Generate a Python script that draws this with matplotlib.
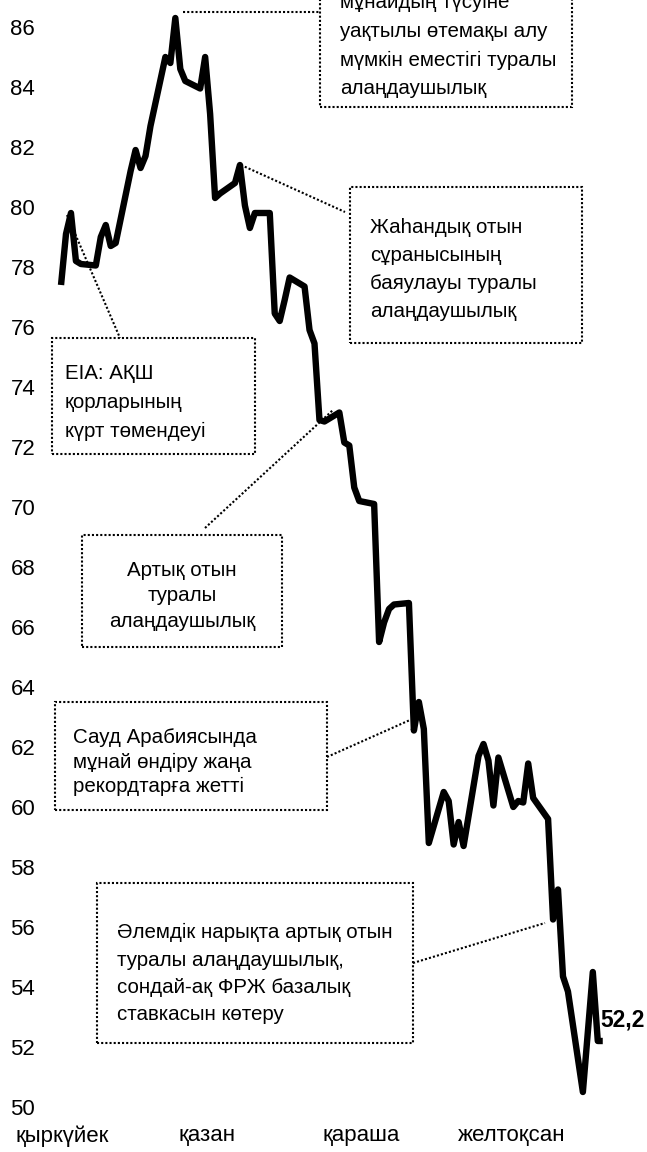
import matplotlib
matplotlib.use("Agg")
import matplotlib.pyplot as plt
import pandas as pd
from matplotlib.patches import Rectangle
from matplotlib.lines import Line2D

# ---------------- data ----------------
dates = [
    "2018-09-10", "2018-09-11", "2018-09-12", "2018-09-13", "2018-09-14",
    "2018-09-17", "2018-09-18", "2018-09-19", "2018-09-20", "2018-09-21",
    "2018-09-24", "2018-09-25", "2018-09-26", "2018-09-27", "2018-09-28",
    "2018-10-01", "2018-10-02", "2018-10-03", "2018-10-04", "2018-10-05",
    "2018-10-08", "2018-10-09", "2018-10-10", "2018-10-11", "2018-10-12",
    "2018-10-15", "2018-10-16", "2018-10-17", "2018-10-18", "2018-10-19",
    "2018-10-22", "2018-10-23", "2018-10-24", "2018-10-25", "2018-10-26",
    "2018-10-29", "2018-10-30", "2018-10-31", "2018-11-01", "2018-11-02",
    "2018-11-05", "2018-11-06", "2018-11-07", "2018-11-08", "2018-11-09",
    "2018-11-12", "2018-11-13", "2018-11-14", "2018-11-15", "2018-11-16",
    "2018-11-19", "2018-11-20", "2018-11-21", "2018-11-22", "2018-11-23",
    "2018-11-26", "2018-11-27", "2018-11-28", "2018-11-29", "2018-11-30",
    "2018-12-03", "2018-12-04", "2018-12-05", "2018-12-06", "2018-12-07",
    "2018-12-10", "2018-12-11", "2018-12-12", "2018-12-13", "2018-12-14",
    "2018-12-17", "2018-12-18", "2018-12-19", "2018-12-20", "2018-12-21",
    "2018-12-24", "2018-12-26", "2018-12-27", "2018-12-28",
]
prices = [
    77.4, 79.1, 79.8, 78.2, 78.1,
    78.05, 79.0, 79.4, 78.7, 78.8,
    81.2, 81.9, 81.3, 81.7, 82.7,
    85.0, 84.8, 86.3, 84.6, 84.2,
    83.95, 85.0, 83.1, 80.3, 80.45,
    80.8, 81.4, 80.05, 79.3, 79.8,
    79.8, 76.45, 76.2, 76.9, 77.65,
    77.35, 75.9, 75.45, 72.9, 72.85,
    73.15, 72.15, 72.05, 70.65, 70.2,
    70.1, 65.5, 66.15, 66.6, 66.75,
    66.8, 62.55, 63.5, 62.6, 58.8,
    60.5, 60.2, 58.75, 59.5, 58.7,
    61.7, 62.1, 61.55, 60.05, 61.65,
    60.0, 60.2, 60.15, 61.45, 60.3,
    59.6, 56.25, 57.25, 54.35, 53.85,
    50.5, 54.5, 52.2, 52.2,
]
month_labels = ["қыркүйек", "қазан", "қараша", "желтоқсан"]
month_pos = [0.2, 29.3, 60.3, 90.6]          # label centres, days from first date
y_ticks = list(range(50, 87, 2))

notes = [
    ["мұнайдың түсуіне", "уақтылы өтемақы алу", "мүмкін еместігі туралы", "алаңдаушылық"],
    ["Жаһандық отын", "сұранысының", "баяулауы туралы", "алаңдаушылық"],
    ["EIA: АҚШ", "қорларының", "күрт төмендеуі"],
    ["Артық отын", "туралы", "алаңдаушылық"],
    ["Сауд Арабиясында", "мұнай өндіру жаңа", "рекордтарға жетті"],
    ["Әлемдік нарықта артық отын", "туралы алаңдаушылық,", "сондай-ақ ФРЖ базалық", "ставкасын көтеру"],
]

# ---------------- layout ----------------
W, H = 647, 1152
FONT = ["Liberation Sans", "DejaVu Sans"]
plt.rcParams["font.family"] = FONT
FS = 16        # tick labels
FS_NOTE = 14.8  # annotation boxes

d = pd.to_datetime(dates)
days = (d - d[0]).days.values

fig = plt.figure(figsize=(W / 100, H / 100), dpi=100)
ax = fig.add_axes([40 / W, (H - 1122) / H, 600 / W, 1140 / H])
ax.set_xlim(-4.23, -4.23 + 600 / 4.97)
ax.set_ylim(49.5, 87.5)

ax.plot(days, prices, color="black", lw=4.6, solid_joinstyle="round",
        solid_capstyle="butt", clip_on=False, zorder=3)

ax.set_yticks(y_ticks, [str(v) for v in y_ticks])
ax.set_xticks(month_pos, month_labels)
ax.tick_params(axis="both", length=0, labelsize=FS)
ax.tick_params(axis="y", pad=3.5)
ax.tick_params(axis="x", pad=2.5)
for s in ax.spines.values():
    s.set_visible(False)

last_txt = f"{prices[-1]:.1f}".replace(".", ",")
ax.annotate(last_txt, xy=(days[-1], prices[-1]), xytext=(-2, 14),
            textcoords="offset pixels", ha="left", va="baseline",
            fontsize=FS + 0.5, fontweight="bold", zorder=4)

DOT = (0, (1, 1))


def fx(x):
    return x / W


def fy(y):
    return 1 - y / H


def box(l, t, r, b):
    fig.add_artist(Rectangle((fx(l), fy(b)), (r - l) / W, (b - t) / H,
                             transform=fig.transFigure, fill=False,
                             lw=1.5, ls=DOT, ec="black", clip_on=False))


def link(x1, y1, x2, y2):
    fig.add_artist(Line2D([fx(x1), fx(x2)], [fy(y1), fy(y2)],
                          transform=fig.transFigure, lw=1.5, ls=DOT,
                          color="black"))


def lines(txts, x, baselines, ha="left"):
    for t, b in zip(txts, baselines):
        fig.text(fx(x), fy(b), t, ha=ha, va="baseline", fontsize=FS_NOTE)


# box 1 (top)
box(320, -10, 572, 107)
link(183, 12, 320, 12)
lines(notes[0], 340, [8, 37, 65.5, 94])

# box 2
box(350, 187, 582, 343)
link(241, 165, 345, 212)
lines(notes[1], 370, [233, 261, 289, 317])

# box 3
box(52, 338, 255, 454)
link(67, 215, 120, 338)
lines(notes[2], 65, [379, 408, 437])

# box 4
box(82, 535, 282, 647)
link(205, 528, 333, 410)
lines(notes[3], 182, [576, 601, 627], ha="center")

# box 5
box(55, 702, 327, 810)
link(327, 757, 410, 720)
lines(notes[4], 73, [743, 767.5, 792])

# box 6
box(97, 883, 413, 1043)
link(413, 963, 545, 923)
lines(notes[5], 117, [938, 965.5, 993, 1020.5])

fig.savefig("out.png", dpi=100)
